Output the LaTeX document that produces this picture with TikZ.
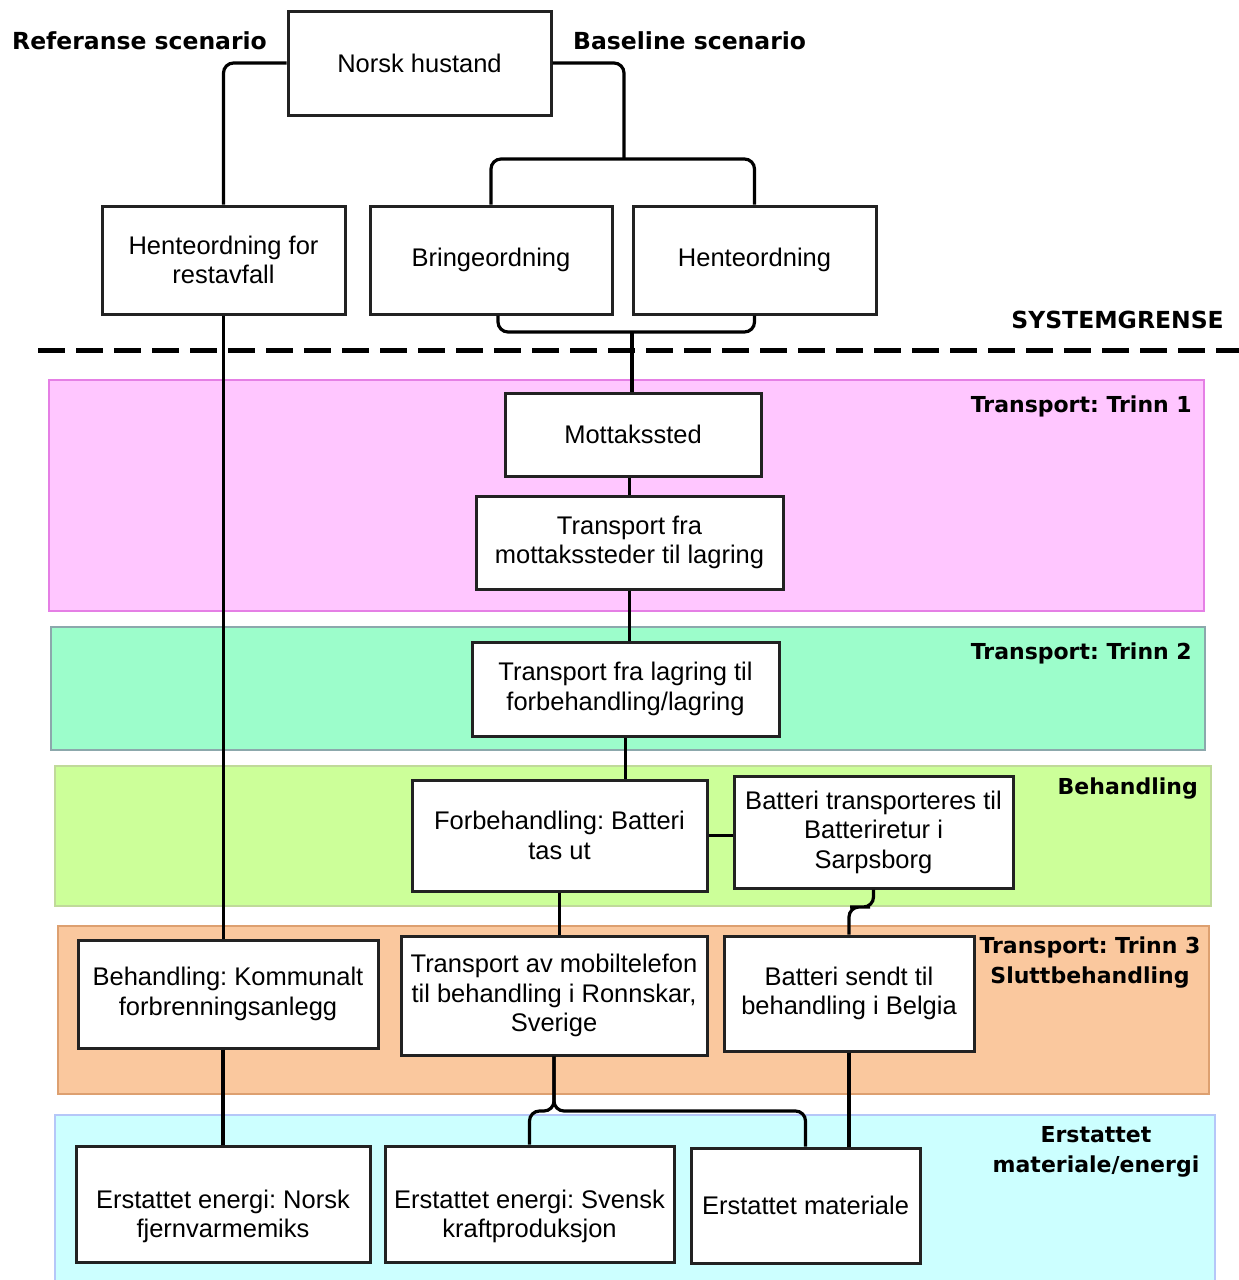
\documentclass[tikz,border=0pt]{standalone}
\usepackage{fontspec}
\setmainfont{Liberation Sans}
\newfontfamily\tagfamily{DejaVu Sans}
\usetikzlibrary{positioning}
\frenchspacing

\definecolor{pinkfill}{HTML}{FFC6FF}
\definecolor{pinkline}{HTML}{E57FE5}
\definecolor{mintfill}{HTML}{9CFDCB}
\definecolor{mintline}{HTML}{8CA8AC}
\definecolor{limefill}{HTML}{CCFF99}
\definecolor{limeline}{HTML}{C0DA9A}
\definecolor{peachfill}{HTML}{FAC89E}
\definecolor{peachline}{HTML}{DDA070}
\definecolor{cyanfill}{HTML}{CCFFFF}
\definecolor{cyanline}{HTML}{B5C7F8}
\definecolor{boxline}{HTML}{222222}

\tikzset{
  box/.style={draw=boxline, line width=3pt, fill=white, align=center, inner sep=2pt,
    font=\fontsize{25.5}{29.5}\selectfont},
  conn/.style={line width=3.2pt, rounded corners=10pt},
  band/.style={line width=2.5pt},
  tag/.style={font=\tagfamily\bfseries\fontsize{22}{30}\selectfont, align=center, inner sep=0pt},
  scen/.style={font=\tagfamily\bfseries\fontsize{23.5}{28}\selectfont, inner sep=0pt},
  sysline/.style={line width=5pt, dash pattern=on 27pt off 11pt},
}
\newcommand{\lowstrut}{\rule{0pt}{43pt}}

\begin{document}
\begin{tikzpicture}[x=1pt, y=-1pt]
    \useasboundingbox (0,0) rectangle (1239,1280);

    % bands
    \draw[band, draw=pinkline, fill=pinkfill] (49,380) rectangle (1204,611);
    \draw[band, draw=mintline, fill=mintfill] (51,627) rectangle (1205,750);
    \draw[band, draw=limeline, fill=limefill] (55,766) rectangle (1211,906);
    \draw[band, draw=peachline, fill=peachfill] (58,926) rectangle (1209,1094);
    \draw[band, draw=cyanline, fill=cyanfill] (55,1115) rectangle (1215,1295);

    % system boundary
    \coordinate (sysl) at (38,350);
    \coordinate (sysr) at (1239,350);
    \draw[sysline] (sysl) -- (sysr);

    % labels
    \node[scen, anchor=west] (ref) at (12,41) {Referanse scenario};
    \node[scen, anchor=west] (base) at (573,41) {Baseline scenario};
    \node[scen, anchor=east] (sys) at (1224,320) {SYSTEMGRENSE};
    \node[tag, anchor=east] (trinn1) at (1192,406) {Transport: Trinn 1};
    \node[tag, anchor=east] (trinn2) at (1192,653) {Transport: Trinn 2};
    \node[tag, anchor=east] (behand) at (1198,789) {Behandling};
    \node[tag] (trinn3) at (1090,963) {Transport: Trinn 3\\Sluttbehandling};
    \node[tag] (erstat) at (1096,1152) {Erstattet\\materiale/energi};

    % boxes
    \node[box, minimum width=263pt, minimum height=104pt] (hus) at (419.5,63) {Norsk hustand};
    \node[box, minimum width=243pt, minimum height=108pt] (hrest) at (223.5,260) {Henteordning for\\restavfall};
    \node[box, minimum width=242pt, minimum height=108pt] (bring) at (491,260) {Bringeordning};
    \node[box, minimum width=243pt, minimum height=108pt] (hente) at (754.5,260) {Henteordning};
    \node[box, minimum width=256pt, minimum height=83pt] (mott) at (633,434.5) {Mottakssted};
    \node[box, minimum width=307pt, minimum height=93pt] (tr1) at (629.5,542.5) {Transport fra\\mottakssteder til lagring};
    \node[box, minimum width=307pt, minimum height=94pt] (tr2) at (625.5,689) {Transport fra lagring til\\forbehandling/lagring};
    \node[box, minimum width=295pt, minimum height=111pt] (forb) at (559.5,835.5) {Forbehandling: Batteri\\tas ut};
    \node[box, minimum width=279pt, minimum height=112pt] (batt) at (873.5,832) {Batteri transporteres til\\Batteriretur i\\Sarpsborg};
    \node[box, minimum width=300pt, minimum height=108pt] (komm) at (228,994) {Behandling: Kommunalt\\forbrenningsanlegg};
    \node[box, minimum width=306pt, minimum height=119pt] (mobil) at (554,995.5) {Transport av mobiltelefon\\til behandling i Ronnskar,\\Sverige};
    \node[box, minimum width=250pt, minimum height=115pt] (belg) at (849,993.5) {Batteri sendt til\\behandling i Belgia};
    \node[box, minimum width=294pt, minimum height=116pt] (enorsk) at (223,1204) {\lowstrut Erstattet energi: Norsk\\fjernvarmemiks};
    \node[box, minimum width=289pt, minimum height=116pt] (esvensk) at (529.5,1204) {\lowstrut Erstattet energi: Svensk\\kraftproduksjon};
    \node[box, minimum width=229pt, minimum height=115pt] (emat) at (805.5,1205.5) {Erstattet materiale};

    % connectors
    \coordinate (split) at (624,159);
    \coordinate (merge) at (632,332);
    \coordinate (bend) at (860,907);
    \coordinate (brace) at (554,1111);
    \draw[conn] (hus.west) -| (hrest.north);
    \draw[conn] (hus.east) -| (split);
    \draw[conn] (bring.north) |- (split) -| (hente.north);
    \draw[conn] ([xshift=7pt]bring.south) |- (merge) -| (hente.south);
    \draw[conn] (merge) -- (merge |- mott.north);
    \draw[conn] (hrest.south) -- (hrest.south |- komm.north);
    \draw[conn] (tr1.north |- mott.south) -- (tr1.north);
    \draw[conn] (tr1.south) -- (tr1.south |- tr2.north);
    \draw[conn] (tr2.south) -- (tr2.south |- forb.north);
    \draw[conn] (forb.east) -- (forb.east -| batt.west);
    \draw[conn] (forb.south) -- (forb.south |- mobil.north);
    \draw[conn] (batt.south) |- (bend) -| (belg.north);
    \draw[conn] (komm.south -| enorsk.north) -- (enorsk.north);
    \draw[conn] (mobil.south) |- (esvensk.north |- brace) -- (esvensk.north);
    \draw[conn] (mobil.south) |- (emat.north |- brace) -- (emat.north);
    \draw[conn] (belg.south) -- (belg.south |- emat.north);
\end{tikzpicture}
\end{document}
